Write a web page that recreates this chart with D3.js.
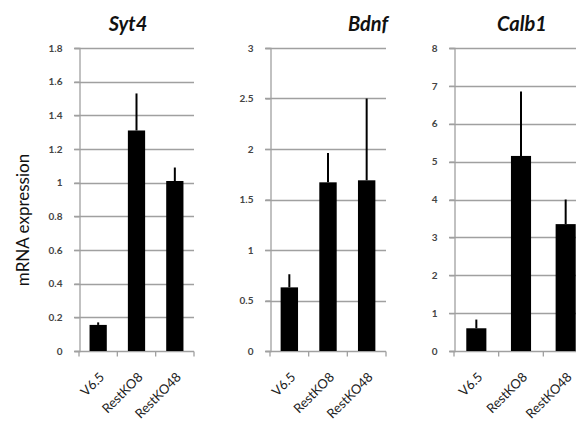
<!DOCTYPE html>
<html>
<head>
<meta charset="utf-8">
<script src="https://cdn.jsdelivr.net/npm/d3@7"></script>
<style>
	body { margin: 0; background: #fff; }
	svg { display: block; }
	.tick-label { font-family: Lato, "Open Sans", sans-serif; font-size: 10px; fill: #444; font-weight: bold; }
	.cat-label { font-family: Lato, "Open Sans", sans-serif; font-size: 13px; fill: #222; }
	.title { font-family: Lato, "Open Sans", sans-serif; font-size: 20px; font-style: italic; font-weight: bold; fill: #111; }
</style>
</head>
<body>
<svg id="container"></svg>
<script>
const categories = ["V6.5", "RestKO8", "RestKO48"];
const genes = ["Syt4", "Bdnf", "Calb1"];

// mean expression and top of the error bar, per gene
const syt4Values = [0.155, 1.31, 1.01];
const syt4Upper = [0.17, 1.53, 1.09];
const bdnfValues = [0.63, 1.67, 1.69];
const bdnfUpper = [0.76, 1.96, 2.5];
const calb1Values = [0.6, 5.15, 3.35];
const calb1Upper = [0.83, 6.85, 4.0];

const syt4Ticks = ["0", "0.2", "0.4", "0.6", "0.8", "1", "1.2", "1.4", "1.6", "1.8"];
const bdnfTicks = ["0", "0.5", "1", "1.5", "2", "2.5", "3"];
const calb1Ticks = ["0", "1", "2", "3", "4", "5", "6", "7", "8"];

const W = 576, H = 444;
const plotTop = 48, plotBottom = 351;

const panels = [
	{ gene: genes[0], values: syt4Values, upper: syt4Upper, ticks: syt4Ticks, x0: 79, x1: 194, titleX: 128 },
	{ gene: genes[1], values: bdnfValues, upper: bdnfUpper, ticks: bdnfTicks, x0: 270, x1: 386, titleX: 368 },
	{ gene: genes[2], values: calb1Values, upper: calb1Upper, ticks: calb1Ticks, x0: 454, x1: 588, titleX: 522 }
];

var svg = d3.select("#container")
	.attr("width", W)
	.attr("height", H);

svg.append("text")
	.attr("transform", "translate(29,220) rotate(-90)")
	.attr("text-anchor", "middle")
	.style("font-family", "Lato, 'Open Sans', sans-serif")
	.style("font-size", "17px")
	.style("fill", "#111")
	.text("mRNA expression");

panels.forEach(function (p) {
	var tickVals = p.ticks.map(Number);
	var yScale = d3.scaleLinear().domain([0, d3.max(tickVals)]).range([plotBottom, plotTop]);
	var xBand = d3.scaleBand().domain(categories).range([p.x0, p.x1]).paddingInner(0.55).paddingOuter(0.275);

	var g = svg.append("g");

	// horizontal gridlines
	g.selectAll(".grid")
		.data(tickVals.filter(v => v > 0))
		.enter()
		.append("line")
		.attr("x1", p.x0 - 5)
		.attr("x2", p.x1)
		.attr("y1", d => Math.round(yScale(d)) + 0.5)
		.attr("y2", d => Math.round(yScale(d)) + 0.5)
		.attr("stroke", "#a0a0a0")
		.attr("stroke-width", 1.3);

	// y axis
	var yAxis = d3.axisLeft(yScale)
		.tickValues(tickVals)
		.tickFormat((d, i) => p.ticks[i])
		.tickSize(5)
		.tickPadding(12);
	var gY = g.append("g")
		.attr("transform", "translate(" + (p.x0 + 0.5) + ",0)")
		.call(yAxis);
	gY.select(".domain").attr("stroke", "#a0a0a0").attr("stroke-width", 1.3);
	gY.selectAll(".tick line").attr("stroke", "#a0a0a0").attr("stroke-width", 1.3);
	gY.selectAll(".tick text").attr("class", "tick-label").attr("fill", null);

	// x axis with boundary ticks
	var boundaries = categories.map(c => xBand(c) - xBand.step() * xBand.paddingInner() / 2);
	boundaries.push(p.x1);
	var gX = g.append("g").attr("transform", "translate(0," + (plotBottom + 0.5) + ")");
	gX.append("line")
		.attr("x1", p.x0 - 5)
		.attr("x2", p.x1)
		.attr("stroke", "#a0a0a0")
		.attr("stroke-width", 1.3);
	gX.selectAll(".xtick")
		.data(boundaries)
		.enter()
		.append("line")
		.attr("x1", d => d)
		.attr("x2", d => d)
		.attr("y1", 0)
		.attr("y2", 5)
		.attr("stroke", "#a0a0a0")
		.attr("stroke-width", 1.3);

	// error bars (upper only)
	g.selectAll(".err")
		.data(categories)
		.enter()
		.append("line")
		.attr("x1", d => xBand(d) + xBand.bandwidth() / 2)
		.attr("x2", d => xBand(d) + xBand.bandwidth() / 2)
		.attr("y1", (d, i) => yScale(p.values[i]))
		.attr("y2", (d, i) => yScale(p.upper[i]))
		.attr("stroke", "#000")
		.attr("stroke-width", 2);

	// bars
	g.selectAll(".bar")
		.data(categories)
		.enter()
		.append("rect")
		.attr("x", d => xBand(d))
		.attr("y", (d, i) => yScale(p.values[i]))
		.attr("width", xBand.bandwidth())
		.attr("height", (d, i) => yScale(0) - yScale(p.values[i]))
		.attr("fill", "#000");

	// category labels
	g.selectAll(".cat")
		.data(categories)
		.enter()
		.append("text")
		.attr("class", "cat-label")
		.attr("text-anchor", "end")
		.attr("transform", d => "translate(" + (xBand(d) + xBand.bandwidth() / 2 + 7) + "," + (plotBottom + 27) + ") rotate(-45)")
		.text(d => d);

	// title
	svg.append("text")
		.attr("class", "title")
		.attr("x", p.titleX)
		.attr("y", 31)
		.attr("text-anchor", "middle")
		.text(p.gene);
});
</script>
</body>
</html>
